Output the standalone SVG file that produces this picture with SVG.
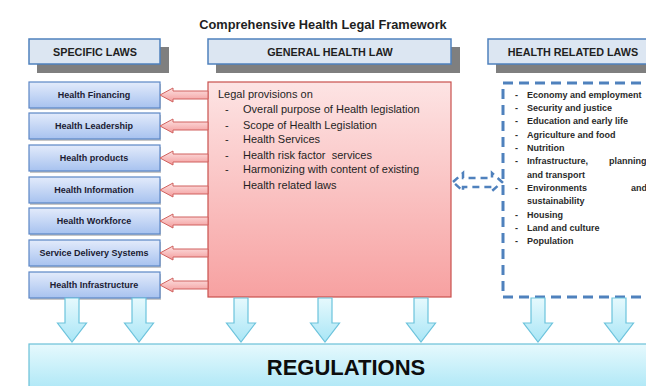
<svg xmlns="http://www.w3.org/2000/svg" width="646" height="386" viewBox="0 0 646 386">
  <defs>
    <linearGradient id="gBlue" x1="0" y1="0" x2="0" y2="1">
      <stop offset="0" stop-color="#e3ebfb"/>
      <stop offset="1" stop-color="#a7c2ef"/>
    </linearGradient>
    <linearGradient id="gRed" x1="0" y1="0" x2="0" y2="1">
      <stop offset="0" stop-color="#fde4e4"/>
      <stop offset="1" stop-color="#f7a1a1"/>
    </linearGradient>
    <linearGradient id="gRedArrow" x1="0" y1="0" x2="0" y2="1">
      <stop offset="0" stop-color="#fde2e2"/>
      <stop offset="1" stop-color="#f39c9c"/>
    </linearGradient>
    <linearGradient id="gCyan" x1="0" y1="0" x2="0" y2="1">
      <stop offset="0" stop-color="#e6f9fd"/>
      <stop offset="1" stop-color="#a9e6f6"/>
    </linearGradient>
    <path id="downArrow" d="M-7,0 H7 V25 H14.5 L0,44 L-14.5,25 H-7 Z"/>
    <path id="leftArrow" d="M0,0 L13,-7 V-4 H48 V4 H13 V7 Z"/>
  </defs>
  <style>
    .hdr { fill: #dce6f2; stroke: #4f81bd; stroke-width: 1.5; }
    .shadow { fill: #7f7f7f; }
    .hdrText { font-family: "Liberation Sans", Arial, sans-serif; font-weight: bold; font-size: 10.8px; fill: #1f1f1f; text-anchor: middle; }
    .spec { fill: url(#gBlue); stroke: #5b86c5; stroke-width: 1.2; }
    .specShadow { fill: #9a9a9a; opacity: 0.55; }
    .specText { font-family: "Liberation Sans", Arial, sans-serif; font-weight: bold; font-size: 9px; fill: #1b1b33; text-anchor: middle; }
    .redArrow { fill: url(#gRedArrow); stroke: #d0615e; stroke-width: 1; }
    .bodyText { font-family: "Liberation Sans", Arial, sans-serif; font-size: 11px; fill: #1f1f1f; white-space: pre; }
    .relText { font-family: "Liberation Sans", Arial, sans-serif; font-weight: bold; font-size: 9px; fill: #2a2a2a; }
    .dashed { fill: none; stroke: #4f81bd; stroke-width: 3; stroke-dasharray: 10 6; }
    .down { fill: url(#gCyan); stroke: #6cc3dc; stroke-width: 1.2; }
  </style>

  <rect width="646" height="386" fill="#ffffff"/>

  <text x="323" y="29" font-family="Liberation Sans, Arial, sans-serif" font-weight="bold" font-size="12.8" fill="#1f1f1f" text-anchor="middle">Comprehensive Health Legal Framework</text>

  <!-- column headers -->
  <g id="hdr-specific">
    <rect class="shadow" x="37" y="47" width="132" height="26"/>
    <rect class="hdr" x="29" y="39" width="131" height="25"/>
    <text class="hdrText" x="95" y="56">SPECIFIC LAWS</text>
  </g>
  <g id="hdr-general">
    <rect class="shadow" x="216" y="47" width="244" height="26"/>
    <rect class="hdr" x="208" y="39" width="243" height="25"/>
    <text class="hdrText" x="330" y="56">GENERAL HEALTH LAW</text>
  </g>
  <g id="hdr-related">
    <rect class="shadow" x="496" y="47" width="160" height="26"/>
    <rect class="hdr" x="488" y="39" width="170" height="25"/>
    <text class="hdrText" x="573" y="56">HEALTH RELATED LAWS</text>
  </g>

  <!-- general health law -->
  <g id="general-law">
    <rect x="208" y="82" width="243" height="215" fill="url(#gRed)" stroke="#c9504d" stroke-width="1.2"/>
    <text class="bodyText" x="218" y="98">Legal provisions on</text>
    <g class="bodyText">
      <text x="225" y="113">-</text><text x="243" y="113">Overall purpose of Health legislation</text>
      <text x="225" y="129">-</text><text x="243" y="129">Scope of Health Legislation</text>
      <text x="225" y="143">-</text><text x="243" y="143">Health Services</text>
      <text x="225" y="159">-</text><text x="243" y="159" xml:space="preserve">Health risk factor  services</text>
      <text x="225" y="173">-</text><text x="243" y="173">Harmonizing with content of existing</text>
      <text x="243" y="189">Health related laws</text>
    </g>
  </g>

  <!-- specific laws -->
  <g id="spec-financing">
    <rect class="specShadow" x="30" y="84" width="131" height="26"/>
    <rect class="spec" x="29" y="82" width="131" height="26"/>
    <text class="specText" x="94" y="98">Health Financing</text>
  </g>
  <g id="spec-leadership">
    <rect class="specShadow" x="30" y="115" width="131" height="26"/>
    <rect class="spec" x="29" y="113" width="131" height="26"/>
    <text class="specText" x="94" y="129">Health Leadership</text>
  </g>
  <g id="spec-products">
    <rect class="specShadow" x="30" y="147" width="131" height="26"/>
    <rect class="spec" x="29" y="145" width="131" height="26"/>
    <text class="specText" x="94" y="161">Health products</text>
  </g>
  <g id="spec-information">
    <rect class="specShadow" x="30" y="179" width="131" height="26"/>
    <rect class="spec" x="29" y="177" width="131" height="26"/>
    <text class="specText" x="94" y="193">Health Information</text>
  </g>
  <g id="spec-workforce">
    <rect class="specShadow" x="30" y="210" width="131" height="26"/>
    <rect class="spec" x="29" y="208" width="131" height="26"/>
    <text class="specText" x="94" y="224">Health Workforce</text>
  </g>
  <g id="spec-delivery">
    <rect class="specShadow" x="30" y="242" width="131" height="26"/>
    <rect class="spec" x="29" y="240" width="131" height="26"/>
    <text class="specText" x="94" y="256">Service Delivery Systems</text>
  </g>
  <g id="spec-infrastructure">
    <rect class="specShadow" x="30" y="274" width="131" height="26"/>
    <rect class="spec" x="29" y="272" width="131" height="26"/>
    <text class="specText" x="94" y="288">Health Infrastructure</text>
  </g>

  <!-- health related laws -->
  <g id="related-laws">
    <rect class="dashed" x="503" y="83" width="170" height="214"/>
    <g class="relText">
      <text x="515" y="98">-</text><text x="527" y="98">Economy and employment</text>
      <text x="515" y="111">-</text><text x="527" y="111">Security and justice</text>
      <text x="515" y="124">-</text><text x="527" y="124">Education and early life</text>
      <text x="515" y="138">-</text><text x="527" y="138">Agriculture and food</text>
      <text x="515" y="151">-</text><text x="527" y="151">Nutrition</text>
      <text x="515" y="164">-</text><text x="527" y="164">Infrastructure,</text><text x="609" y="164">planning</text>
      <text x="527" y="178">and transport</text>
      <text x="515" y="191">-</text><text x="527" y="191">Environments</text><text x="631" y="191">and</text>
      <text x="527" y="204">sustainability</text>
      <text x="515" y="218">-</text><text x="527" y="218">Housing</text>
      <text x="515" y="231">-</text><text x="527" y="231">Land and culture</text>
      <text x="515" y="244">-</text><text x="527" y="244">Population</text>
    </g>
  </g>

  <!-- regulations -->
  <g id="regulations">
    <rect x="29" y="344" width="640" height="50" fill="url(#gCyan)" stroke="#6ac0d8" stroke-width="1.2"/>
    <text x="346" y="375" font-family="Liberation Sans, Arial, sans-serif" font-weight="bold" font-size="22" fill="#0d0d0d" text-anchor="middle">REGULATIONS</text>
  </g>

  <!-- connectors -->
  <g id="connectors">
    <use href="#leftArrow" class="redArrow" x="160" y="95"/>
    <use href="#leftArrow" class="redArrow" x="160" y="126"/>
    <use href="#leftArrow" class="redArrow" x="160" y="158"/>
    <use href="#leftArrow" class="redArrow" x="160" y="190"/>
    <use href="#leftArrow" class="redArrow" x="160" y="221"/>
    <use href="#leftArrow" class="redArrow" x="160" y="253"/>
    <use href="#leftArrow" class="redArrow" x="160" y="285"/>

    <path d="M453,182 L463,173 V178 H492 V173 L502,182 L492,191 V187 H463 V191 Z" fill="none" stroke="#4f81bd" stroke-width="2.5" stroke-dasharray="7 5"/>

    <use href="#downArrow" class="down" x="72" y="298"/>
    <use href="#downArrow" class="down" x="139" y="298"/>
    <use href="#downArrow" class="down" x="241" y="298"/>
    <use href="#downArrow" class="down" x="325" y="298"/>
    <use href="#downArrow" class="down" x="421" y="298"/>
    <use href="#downArrow" class="down" x="538" y="298"/>
    <use href="#downArrow" class="down" x="619" y="298"/>
  </g>
</svg>
